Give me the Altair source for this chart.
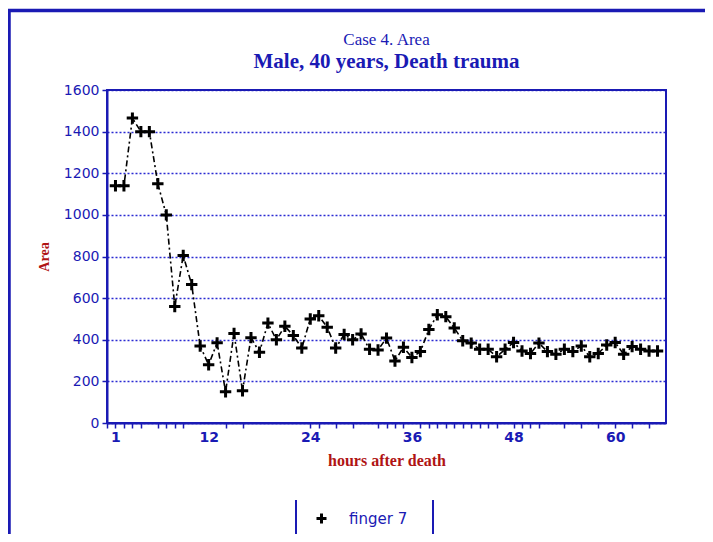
import altair as alt
import pandas as pd

# ---- data ----
hours = list(range(1, 66))
area = [1140, 1140, 1465, 1400, 1400, 1150, 1000, 560, 805, 665,
        370, 280, 385, 150, 430, 155, 410, 340, 480, 400,
        465, 420, 360, 500, 515, 460, 360, 425, 400, 428,
        354, 351, 408, 298, 364, 315, 343, 449, 520, 511,
        457, 395, 384, 354, 354, 318, 354, 387, 346, 334,
        384, 343, 330, 354, 343, 370, 318, 334, 375, 387,
        330, 367, 354, 346, 346]
series_name = "finger 7"

title_line1 = "Case 4. Area"
title_line2 = "Male, 40 years, Death trauma"
x_title = "hours after death"
y_title = "Area"
x_label_values = [1, 12, 24, 36, 48, 60]
x_minor_ticks = [0, 1, 2, 3, 4, 6, 7, 8, 9, 14, 16, 24, 25, 27, 29, 32, 33, 34, 35,
                 37, 38, 39, 40, 41, 42, 43, 44, 45, 46, 48, 49, 50, 51, 54, 56, 58,
                 60, 62, 64]
y_ticks = [0, 200, 400, 600, 800, 1000, 1200, 1400, 1600]

df = pd.DataFrame({"hour": hours, "area": area, "series": [series_name] * len(hours)})

W, H = 559, 333
BLUE = "#1a1ab4"
GRID = "#2a2ad2"
RED = "#b01414"
PLUS = "M-1,0L1,0M0,-1L0,1"

tick_values = sorted(set(x_minor_ticks + x_label_values))
label_list = "[" + ",".join(str(v) for v in x_label_values) + "]"

x_enc = alt.X(
    "hour:Q",
    scale=alt.Scale(domain=[0, 66], nice=False, zero=False),
    axis=alt.Axis(
        values=tick_values,
        labelExpr=f"indexof({label_list}, datum.value) >= 0 ? datum.label : ''",
        title=x_title,
        grid=False,
        tickOpacity=alt.condition("datum.value == 12 || datum.value == 36", alt.value(0), alt.value(1)),
        tickSize=5,
        tickWidth=1.5,
        tickColor=BLUE,
        domainColor=BLUE,
        domainWidth=2,
        labelColor=BLUE,
        labelFont="DejaVu Sans",
        labelFontWeight="bold",
        labelFontSize=14,
        labelPadding=2,
        labelFlush=False,
        labelOverlap=False,
        titleColor=RED,
        titleFont="Liberation Serif",
        titleFontWeight="bold",
        titleFontSize=16,
        titlePadding=8,
    ),
)
y_enc = alt.Y(
    "area:Q",
    scale=alt.Scale(domain=[0, 1600], nice=False),
    axis=alt.Axis(
        values=y_ticks,
        format="d",
        title=y_title,
        grid=True,
        gridColor=GRID,
        gridDash=[2, 2],
        gridWidth=1.5,
        tickSize=5,
        tickWidth=1.5,
        tickColor=BLUE,
        domainColor=BLUE,
        domainWidth=2,
        labelColor=BLUE,
        labelFont="DejaVu Sans",
        labelFontSize=14,
        labelPadding=3,
        labelFlush=False,
        titleColor=RED,
        titleFont="Liberation Serif",
        titleFontWeight="bold",
        titleFontSize=14,
        titlePadding=12,
    ),
)

base = alt.Chart(df)

line = base.mark_line(color="black", strokeWidth=1.6, strokeDash=[6, 3, 2, 3]).encode(x=x_enc, y=y_enc)

points = base.mark_point(shape=PLUS, size=130, strokeWidth=3, filled=False, opacity=1).encode(
    x=x_enc,
    y=y_enc,
    color=alt.Color(
        "series:N",
        scale=alt.Scale(range=["black"]),
        legend=alt.Legend(
            title=None,
            orient="none",
            legendX=207,
            legendY=421,
            padding=0,
            symbolType=PLUS,
            symbolSize=100,
            symbolStrokeWidth=3,
            symbolStrokeColor="black",
            labelColor=BLUE,
            labelFont="DejaVu Sans",
            labelFontSize=15,
            labelOffset=20,
        ),
    ),
)

one = alt.Data(values=[{"k": 1}])
frame = alt.Chart(one).mark_rect(filled=False, stroke=BLUE, strokeWidth=2).encode(
    x=alt.value(0), x2=alt.value(W), y=alt.value(0), y2=alt.value(H)
)
outer = alt.Chart(one).mark_rect(filled=False, stroke=BLUE, strokeWidth=3.5).encode(
    x=alt.value(-98), x2=alt.value(W + 80), y=alt.value(-79.5), y2=alt.value(H + 140)
)
rule_left = alt.Chart(one).mark_rule(color=BLUE, strokeWidth=2).encode(
    x=alt.value(189), y=alt.value(410), y2=alt.value(470)
)
rule_right = alt.Chart(one).mark_rule(color=BLUE, strokeWidth=2).encode(
    x=alt.value(326), y=alt.value(410), y2=alt.value(470)
)
title1 = alt.Chart(one).mark_text(
    text=title_line1, font="Liberation Serif", fontSize=17, color=BLUE, baseline="middle", align="center"
).encode(x=alt.value(W / 2), y=alt.value(-50))
title2 = alt.Chart(one).mark_text(
    text=title_line2, font="Liberation Serif", fontSize=21, fontWeight="bold", color=BLUE,
    baseline="middle", align="center"
).encode(x=alt.value(W / 2), y=alt.value(-28))

chart = alt.layer(line, points, frame, outer, rule_left, rule_right, title1, title2).properties(
    width=W,
    height=H,
    autosize=alt.AutoSizeParams(type="none"),
    padding={"left": 99, "top": 82, "right": 39, "bottom": 111},
).configure_view(stroke=None).configure(background="white")

chart.save("out.html", embed_options={"renderer": "svg", "actions": False})
